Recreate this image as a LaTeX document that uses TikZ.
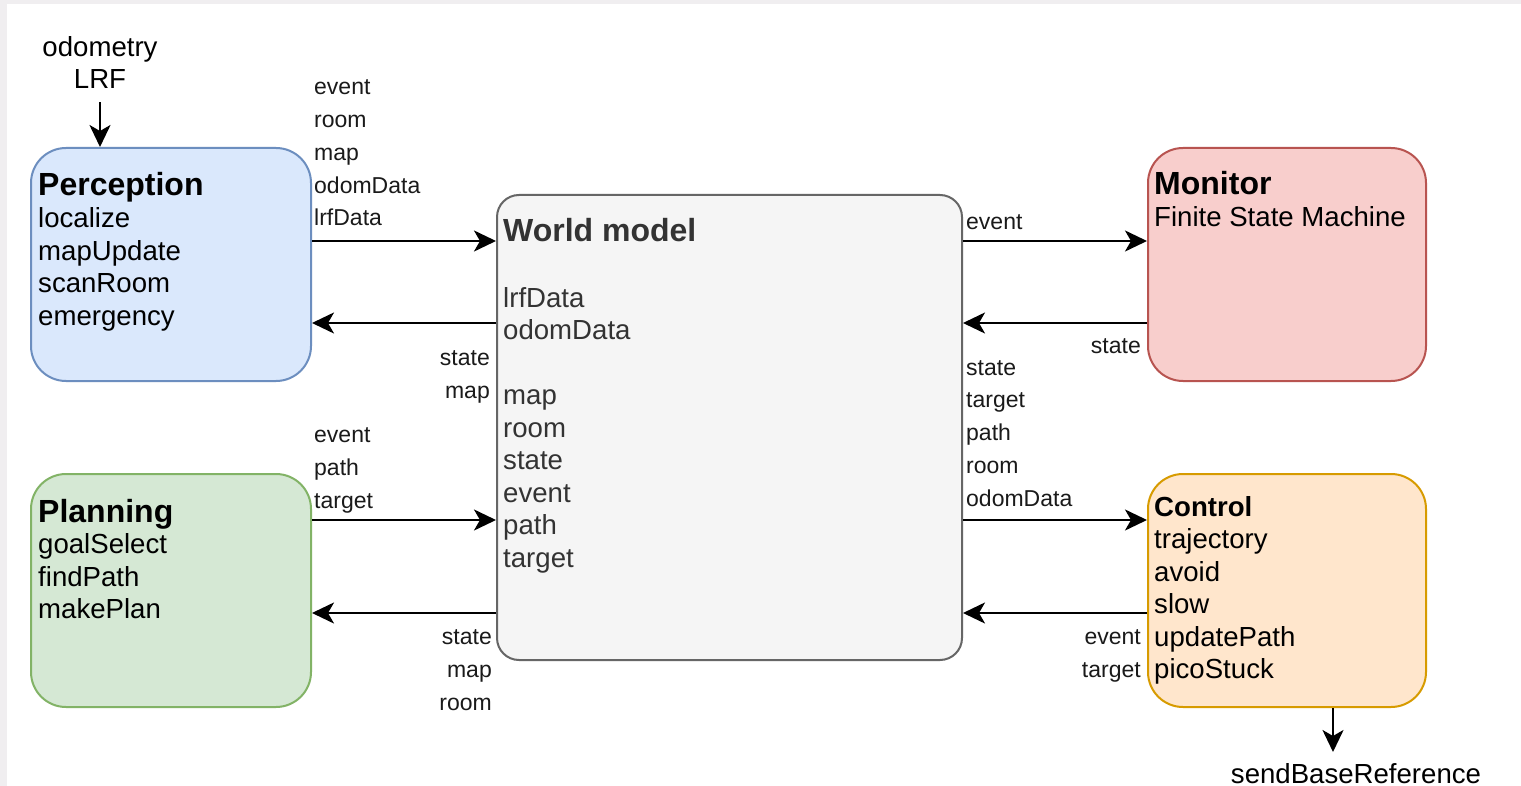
\documentclass[tikz,border=0pt]{standalone}
\usepackage{fontspec}
\setmainfont{Liberation Sans}
\usetikzlibrary{arrows.meta}
\definecolor{framec}{HTML}{F0EEF0}
\definecolor{percfill}{HTML}{DAE8FC}\definecolor{percdraw}{HTML}{6C8EBF}
\definecolor{wmfill}{HTML}{F5F5F5}\definecolor{wmdraw}{HTML}{666666}
\definecolor{monfill}{HTML}{F8CECC}\definecolor{mondraw}{HTML}{B85450}
\definecolor{planfill}{HTML}{D5E8D4}\definecolor{plandraw}{HTML}{82B366}
\definecolor{ctrlfill}{HTML}{FFE6CC}\definecolor{ctrldraw}{HTML}{D79B00}
\definecolor{wmtext}{HTML}{333333}
\definecolor{lblc}{HTML}{1A1A1A}
\begin{document}
\begin{tikzpicture}[x=1pt,y=-1pt,
  module/.style={draw, rectangle, line width=2pt, rounded corners=35pt, inner sep=0pt},
  title/.style={anchor=base west, inner sep=0pt, font=\fontsize{32}{32}\selectfont\bfseries},
  body/.style={anchor=base west, align=left, inner sep=0pt, font=\fontsize{27.6}{32.5}\selectfont},
  lblL/.style={anchor=base west, align=left, inner sep=0pt, text=lblc, font=\fontsize{23}{32.75}\selectfont},
  lblR/.style={anchor=base east, align=right, inner sep=0pt, text=lblc, font=\fontsize{23}{32.75}\selectfont},
  arr/.style={line width=2.4pt, -{Stealth[length=22pt,width=21pt,inset=6pt]}}
]
\useasboundingbox (0,0) rectangle (1521,786);
\fill[white] (0,0) rectangle (1521,786);
\fill[framec] (0,0) rectangle (1521,4.5);
\fill[framec] (0,0) rectangle (7,786);

% modules
\node[module, fill=percfill, draw=percdraw, minimum width=280pt, minimum height=233pt] (perc) at (171,264.5) {};
\node[module, fill=wmfill, draw=wmdraw, rounded corners=22pt, minimum width=465pt, minimum height=465pt] (wm) at (729.5,427.5) {};
\node[module, fill=monfill, draw=mondraw, minimum width=278pt, minimum height=233pt] (mon) at (1287,264.5) {};
\node[module, fill=planfill, draw=plandraw, minimum width=280pt, minimum height=233pt] (plan) at (171,590.5) {};
\node[module, fill=ctrlfill, draw=ctrldraw, minimum width=278pt, minimum height=233pt] (ctrl) at (1287,590.5) {};

% module texts (multi-line nodes are placed by the baseline of their last line)
\node[title] (percT) at (38,196) {Perception};
\node[body] (percB) at (38,325.5) {localize\\mapUpdate\\scanRoom\\emergency};
\node[title, text=wmtext] (wmT) at (503,242) {World model};
\node[body, text=wmtext] (wmB) at (503,567) {lrfData\\odomData\\[32.5pt]map\\room\\state\\event\\path\\target};
\node[title] (monT) at (1154,195) {Monitor};
\node[body] (monB) at (1154,227) {Finite State Machine};
\node[title] (planT) at (38,522) {Planning};
\node[body] (planB) at (38,618.5) {goalSelect\\findPath\\makePlan};
\node[title, font=\fontsize{27.6}{32.5}\selectfont\bfseries] (ctrlT) at (1154,516) {Control};
\node[body] (ctrlB) at (1154,678.5) {trajectory\\avoid\\slow\\updatePath\\picoStuck};

% inputs / outputs
\node[anchor=base, align=center, inner sep=0pt, font=\fontsize{27.6}{32}\selectfont] (inp) at (100,89) {odometry\\LRF};
\node[anchor=base, inner sep=0pt, font=\fontsize{27.6}{32}\selectfont] (outp) at (1356,783) {sendBaseReference};
\coordinate (oc) at (1333,0);
\coordinate (oend) at (1333,752);

% arrow levels
\coordinate (ya) at (0,241);
\coordinate (yb) at (0,323);
\coordinate (yc) at (0,520);
\coordinate (yd) at (0,613);

\draw[arr] ([yshift=-13pt]inp.south) -- (inp.south |- perc.north);
\draw[arr] (ctrl.south -| oc) -- (oend);

\draw[arr] (perc.east |- ya) -- (wm.west |- ya);
\draw[arr] (wm.west |- yb) -- (perc.east |- yb);
\draw[arr] (plan.east |- yc) -- (wm.west |- yc);
\draw[arr] (wm.west |- yd) -- (plan.east |- yd);
\draw[arr] (wm.east |- ya) -- (mon.west |- ya);
\draw[arr] (mon.west |- yb) -- (wm.east |- yb);
\draw[arr] (wm.east |- yc) -- (ctrl.west |- yc);
\draw[arr] (ctrl.west |- yd) -- (wm.east |- yd);

% connector labels
\node[lblL] (l1) at (314,226) {event\\room\\map\\odomData\\lrfData};
\node[lblR] (l2) at (490,398.5) {state\\map};
\node[lblL] (l3) at (314,508) {event\\path\\target};
\node[lblR] (l4) at (492,710) {state\\map\\room};
\node[lblL] (l5) at (966,230) {event};
\node[lblR] (l6) at (1141,353) {state};
\node[lblL] (l7) at (966,506) {state\\target\\path\\room\\odomData};
\node[lblR] (l8) at (1141,677) {event\\target};
\end{tikzpicture}
\end{document}
